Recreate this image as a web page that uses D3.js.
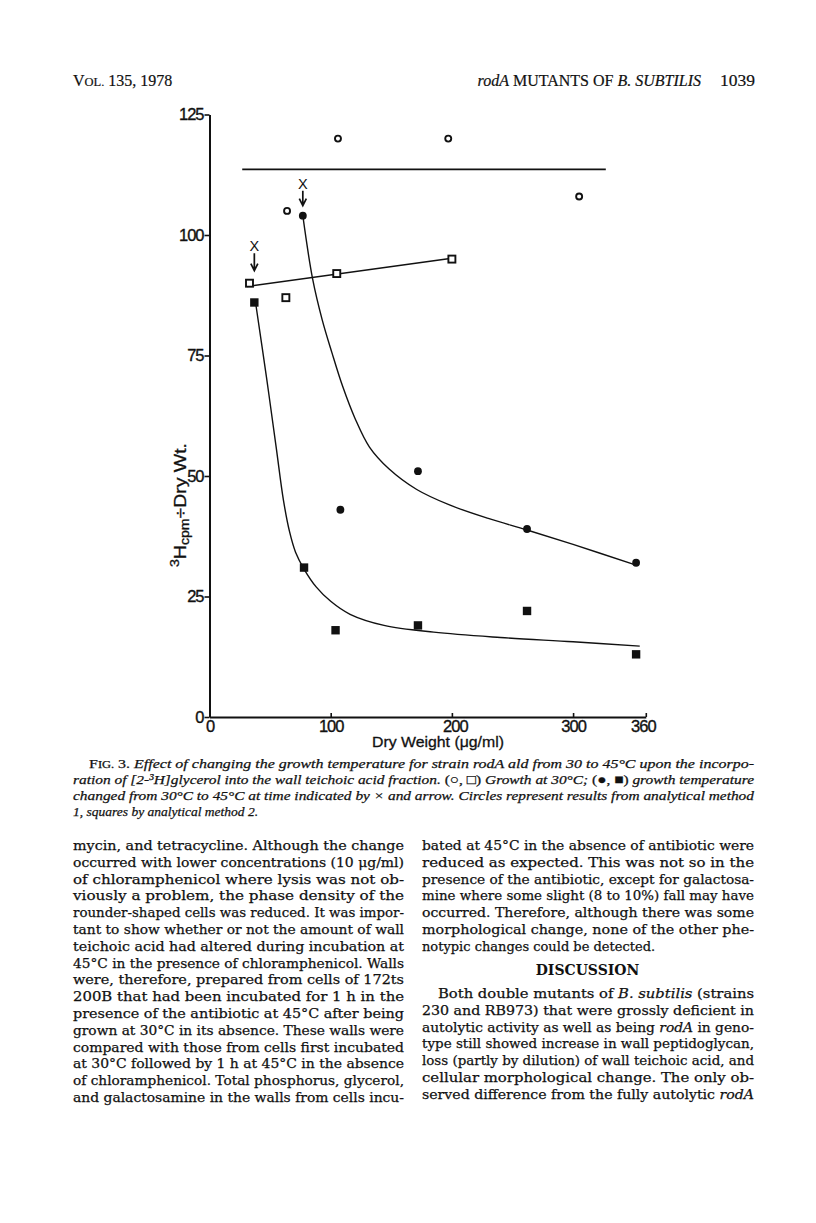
<!DOCTYPE html>
<html lang="en">
<head>
<meta charset="utf-8"/>
<title>Fig. 3 - rodA mutants of B. subtilis</title>
<script src="https://cdn.jsdelivr.net/npm/d3@7"></script>
<style>
  body { margin: 0; background: #ffffff; }
  svg { display: block; }
</style>
</head>
<body>
<svg id="page"></svg>
<script>
// ---- data ----
const xTicks = [0, 100, 200, 300, 360]
const yTicks = [0, 25, 50, 75, 100, 125]

// growth at 30C, method 1 (open circles)
const open30CircleX = [64, 106, 197, 305]
const open30CircleY = [105, 120, 120, 108]
// growth at 30C, method 2 (open squares)
const open30SquareX = [33, 63, 105, 200]
const open30SquareY = [90, 87, 92, 95]
// shifted to 45C, method 1 (filled circles)
const shiftCircleX = [77, 108, 172, 262, 352]
const shiftCircleY = [104, 43, 51, 39, 32]
// shifted to 45C, method 2 (filled squares)
const shiftSquareX = [37, 78, 104, 172, 262, 352]
const shiftSquareY = [86, 31, 18, 19, 22, 13]

// hand drawn lines through the points
const meanLineX = [27, 327]
const meanLineY = [113.6, 113.6]
const squareFitX = [31, 200]
const squareFitY = [89.3, 95.2]
const circleCurveX = [77, 85, 93, 101, 110, 120, 132, 148, 171, 198, 230, 262, 300, 352]
const circleCurveY = [104, 91, 82.4, 75.6, 68.5, 62, 56, 51.5, 47.2, 44, 41.2, 38.8, 35.8, 31.5]
const squareCurveX = [38, 47, 55, 61, 66, 71, 78, 88, 100, 116, 144, 185, 240, 300, 355]
const squareCurveY = [86, 70.5, 56, 45, 38.5, 34.2, 30.7, 27, 24, 21.3, 19, 17.6, 16.5, 15.6, 14.7]

// "X" + arrow where temperature was changed
const shiftAtX = [37, 77]
const shiftLabelY = [97.7, 110.7]
const shiftArrowTop = [96.2, 109.2]
const shiftArrowTip = [92.6, 106.1]

const captionLines = [
  '*Effect of changing the growth temperature for strain rodA ald from 30 to 45°C upon the incorpo-*',
  '*ration of [2-³H]glycerol into the wall teichoic acid fraction.* (○, □) *Growth at 30°C;* (●, ■) *growth temperature*',
  '*changed from 30°C to 45°C at time indicated by × and arrow. Circles represent results from analytical method*',
  '*1, squares by analytical method 2.*'
]

const leftColumn = [
  'mycin, and tetracycline. Although the change',
  'occurred with lower concentrations (10 μg/ml)',
  'of chloramphenicol where lysis was not ob-',
  'viously a problem, the phase density of the',
  'rounder-shaped cells was reduced. It was impor-',
  'tant to show whether or not the amount of wall',
  'teichoic acid had altered during incubation at',
  '45°C in the presence of chloramphenicol. Walls',
  'were, therefore, prepared from cells of 172ts',
  '200B that had been incubated for 1 h in the',
  'presence of the antibiotic at 45°C after being',
  'grown at 30°C in its absence. These walls were',
  'compared with those from cells first incubated',
  'at 30°C followed by 1 h at 45°C in the absence',
  'of chloramphenicol. Total phosphorus, glycerol,',
  'and galactosamine in the walls from cells incu-'
]
const rightTop = [
  'bated at 45°C in the absence of antibiotic were',
  'reduced as expected. This was not so in the',
  'presence of the antibiotic, except for galactosa-',
  'mine where some slight (8 to 10%) fall may have',
  'occurred. Therefore, although there was some',
  'morphological change, none of the other phe-',
  'notypic changes could be detected.'
]
const rightBottom = [
  'Both double mutants of *B. subtilis* (strains',
  '230 and RB973) that were grossly deficient in',
  'autolytic activity as well as being *rodA* in geno-',
  'type still showed increase in wall peptidoglycan,',
  'loss (partly by dilution) of wall teichoic acid, and',
  'cellular morphological change. The only ob-',
  'served difference from the fully autolytic *rodA*'
]

const width = 816
const height = 1223

const svg = d3.select('#page')
  .attr('width', width)
  .attr('height', height)
  .attr('viewBox', `0 0 ${width} ${height}`)

svg.append('rect').attr('width', width).attr('height', height).attr('fill', '#fff')

const x = d3.scaleLinear().domain([0, 360]).range([209.5, 645.8])
const y = d3.scaleLinear().domain([0, 125]).range([717, 114.5])

const zip = (xs, ys) => xs.map((d, i) => [d, ys[i]])

// ---- axes ----
const sans = '"Liberation Sans", Arial, sans-serif'
const ink = '#111'

function styleTicks(g) {
  g.select('.domain').attr('stroke-width', 2).attr('stroke', ink)
  g.selectAll('.tick line').attr('stroke-width', 1.6).attr('stroke', ink)
  g.selectAll('.tick text')
    .attr('font-size', 16.5).attr('font-family', sans)
    .attr('letter-spacing', -1).attr('fill', ink)
    .attr('stroke', ink).attr('stroke-width', 0.35)
}

const yAxis = svg.append('g')
  .attr('transform', `translate(${x(0)},0)`)
  .call(d3.axisLeft(y).tickValues(yTicks).tickSize(5).tickSizeOuter(0).tickPadding(1))
styleTicks(yAxis)

const xAxis = svg.append('g')
  .attr('transform', `translate(0,${y(0)})`)
  .call(d3.axisBottom(x).tickValues(xTicks).tickSize(-4).tickSizeOuter(0).tickPadding(4))
styleTicks(xAxis)
xAxis.selectAll('.tick text').attr('y', 3)
xAxis.selectAll('.tick').filter(d => d === 0).select('line').remove()
xAxis.selectAll('.tick').filter(d => d === 200).select('text').attr('dx', 3)
xAxis.selectAll('.tick').filter(d => d === 360).select('text').attr('dx', -3)

svg.append('text')
  .attr('x', 372).attr('y', 747)
  .attr('font-family', sans).attr('font-size', 15.5)
  .attr('fill', ink).attr('stroke', ink).attr('stroke-width', 0.3)
  .attr('textLength', 132).attr('lengthAdjust', 'spacingAndGlyphs')
  .text('Dry Weight (μg/ml)')

const yLab = svg.append('text')
  .attr('transform', 'translate(186,567) rotate(-90)')
  .attr('font-family', sans).attr('font-size', 16.5)
  .attr('fill', ink).attr('stroke', ink).attr('stroke-width', 0.3)
  .attr('textLength', 124).attr('lengthAdjust', 'spacingAndGlyphs')
yLab.append('tspan').attr('font-size', 12).attr('dy', -7).text('3')
yLab.append('tspan').attr('dy', 7).text('H')
yLab.append('tspan').attr('font-size', 12).attr('dy', 3).text('cpm')
yLab.append('tspan').attr('dy', -3).text('÷Dry Wt.')

// ---- fitted lines ----
const line = d3.line().x(d => x(d[0])).y(d => y(d[1]))
const smooth = d3.line().x(d => x(d[0])).y(d => y(d[1])).curve(d3.curveCatmullRom.alpha(0.5))

const lines = svg.append('g').attr('fill', 'none').attr('stroke', ink)
lines.append('path').attr('d', line(zip(meanLineX, meanLineY))).attr('stroke-width', 1.8)
lines.append('path').attr('d', line(zip(squareFitX, squareFitY))).attr('stroke-width', 1.5)
lines.append('path').attr('d', smooth(zip(circleCurveX, circleCurveY))).attr('stroke-width', 1.4)
lines.append('path').attr('d', smooth(zip(squareCurveX, squareCurveY))).attr('stroke-width', 1.4)

// ---- points ----
const pts = svg.append('g')
pts.selectAll('circle.open')
  .data(zip(open30CircleX, open30CircleY))
  .join('circle').attr('class', 'open')
  .attr('cx', d => x(d[0])).attr('cy', d => y(d[1])).attr('r', 3)
  .attr('fill', '#fff').attr('stroke', ink).attr('stroke-width', 1.9)

pts.selectAll('rect.open')
  .data(zip(open30SquareX, open30SquareY))
  .join('rect').attr('class', 'open')
  .attr('x', d => x(d[0]) - 3.5).attr('y', d => y(d[1]) - 3.5)
  .attr('width', 7).attr('height', 7)
  .attr('fill', '#fff').attr('stroke', ink).attr('stroke-width', 1.9)

pts.selectAll('circle.filled')
  .data(zip(shiftCircleX, shiftCircleY))
  .join('circle').attr('class', 'filled')
  .attr('cx', d => x(d[0])).attr('cy', d => y(d[1])).attr('r', 3.9)
  .attr('fill', ink)

pts.selectAll('rect.filled')
  .data(zip(shiftSquareX, shiftSquareY))
  .join('rect').attr('class', 'filled')
  .attr('x', d => x(d[0]) - 4.2).attr('y', d => y(d[1]) - 4.2)
  .attr('width', 8.4).attr('height', 8.4)
  .attr('fill', ink)

// ---- shift markers ----
const marks = svg.append('g')
shiftAtX.forEach((v, i) => {
  const cx = x(v)
  marks.append('text')
    .attr('x', cx).attr('y', y(shiftLabelY[i]) + 5.2)
    .attr('text-anchor', 'middle')
    .attr('font-family', sans).attr('font-size', 14.5)
    .attr('fill', ink)
    .text('X')
  const top = y(shiftArrowTop[i]), tip = y(shiftArrowTip[i])
  marks.append('path')
    .attr('d', `M${cx},${top}V${tip}M${cx - 3.5},${tip - 7}L${cx},${tip}L${cx + 3.5},${tip - 7}`)
    .attr('fill', 'none').attr('stroke', ink).attr('stroke-width', 1.7)
})

// ---- page text ----
const serif = '"DejaVu Serif", "Liberation Serif", serif'
const capSerif = '"Liberation Serif", "Times New Roman", serif'

function textLine(sel, str, x0, y0, w, justify, font, size) {
  const t = sel.append('text')
    .attr('x', x0).attr('y', y0)
    .attr('font-family', font).attr('font-size', size)
    .attr('fill', ink).attr('stroke', ink).attr('stroke-width', 0.25)
  str.split('*').forEach((part, i) => {
    if (!part) return
    t.append('tspan').attr('font-style', i % 2 ? 'italic' : null).text(part)
  })
  if (justify) t.attr('textLength', w).attr('lengthAdjust', 'spacingAndGlyphs')
  return t
}

const colL = 73, colR = 422, colW = 331

// running head
const head = svg.append('g').attr('font-family', capSerif).attr('fill', ink)
  .attr('stroke', ink).attr('stroke-width', 0.2)
const vol = head.append('text').attr('x', colL).attr('y', 86).attr('font-size', 16)
vol.append('tspan').text('V')
vol.append('tspan').attr('font-size', 12.5).text('OL.')
vol.append('tspan').text(' 135, 1978')
const rh = head.append('text').attr('x', 701).attr('y', 86).attr('font-size', 16)
  .attr('text-anchor', 'end')
rh.append('tspan').attr('font-style', 'italic').text('rodA')
rh.append('tspan').text(' MUTANTS OF ')
rh.append('tspan').attr('font-style', 'italic').text('B. SUBTILIS')
head.append('text').attr('x', 755).attr('y', 86).attr('font-size', 17.5)
  .attr('text-anchor', 'end').text('1039')

// caption
const cap = svg.append('g')
const c0 = textLine(cap, '', 89, 768, 0, false, capSerif, 13.5)
c0.append('tspan').text('F')
c0.append('tspan').attr('font-size', 10.5).text('IG.')
c0.append('tspan').text(' 3. ')
captionLines[0].split('*').forEach((part, i) => {
  if (part) c0.append('tspan').attr('font-style', i % 2 ? 'italic' : null).text(part)
})
c0.attr('textLength', 754 - 89).attr('lengthAdjust', 'spacingAndGlyphs')
captionLines.slice(1).forEach((s, i) => {
  textLine(cap, s, colL, 784 + i * 16, 754 - colL, i < 2, capSerif, 13.5)
})

// body text, two columns
const body = svg.append('g')
const lh = 16.8
leftColumn.forEach((s, i) => {
  textLine(body, s, colL, 850 + i * lh, colW, true, serif, 13)
})
rightTop.forEach((s, i) => {
  textLine(body, s, colR, 850 + i * lh, colW + 1, i < rightTop.length - 1, serif, 13)
})
body.append('text')
  .attr('x', colR + colW / 2).attr('y', 975)
  .attr('text-anchor', 'middle')
  .attr('font-family', serif).attr('font-size', 14).attr('font-weight', 'bold')
  .attr('fill', ink)
  .text('DISCUSSION')
rightBottom.forEach((s, i) => {
  const ind = i === 0 ? 16 : 0
  textLine(body, s, colR + ind, 998 + i * lh, colW + 1 - ind, true, serif, 13)
})
</script>
</body>
</html>
